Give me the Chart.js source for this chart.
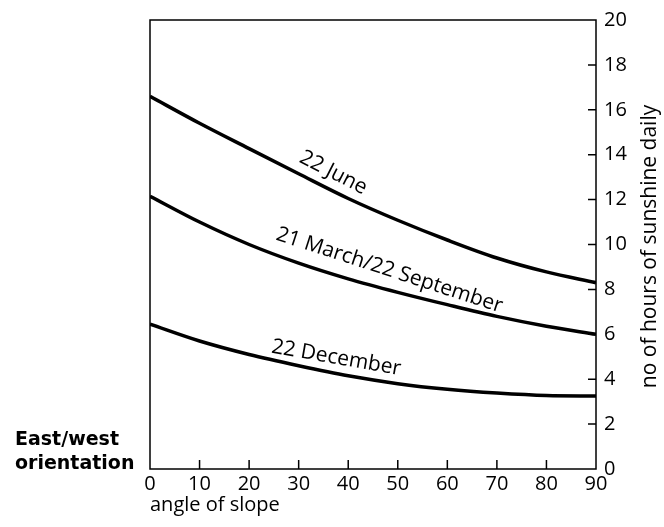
<!DOCTYPE html>
<html>
<head>
<meta charset="utf-8">
<script src="https://cdn.jsdelivr.net/npm/chart.js@4/dist/chart.umd.min.js"></script>
<style>
  html, body { margin: 0; padding: 0; background: #fff; }
</style>
</head>
<body>
<canvas id="slopeChart" width="664" height="527"></canvas>
<script>
// values
var angles = [0, 10, 20, 30, 40, 50, 60, 70, 80, 90];
var juneHours = [16.6, 15.4, 14.27, 13.15, 12.05, 11.08, 10.2, 9.4, 8.78, 8.3];
var equinoxHours = [12.15, 11.0, 10.0, 9.17, 8.47, 7.87, 7.32, 6.8, 6.36, 6.0];
var decemberHours = [6.45, 5.7, 5.1, 4.6, 4.15, 3.8, 3.55, 3.38, 3.27, 3.25];
var seriesNames = ['22 June', '21 March/22 September', '22 December'];

// where each curve name sits (in axis units) and its tilt in degrees
var nameSpots = [
    { x: 37, y: 13.2, tilt: 27 },
    { x: 48.3, y: 8.85, tilt: 18 },
    { x: 37.6, y: 4.95, tilt: 10 }
];

function toPoints(ys) {
    return angles.map(function(a, i) { return { x: a, y: ys[i] }; });
}

var decorPlugin = {
    id: 'decor',
    afterDraw: function(chart) {
        var ctx = chart.ctx;
        var area = chart.chartArea;
        var xs = chart.scales.x;
        var ys = chart.scales.y;
        ctx.save();

        // frame round the plot
        ctx.strokeStyle = '#000';
        ctx.lineWidth = 1.5;
        ctx.strokeRect(area.left, area.top, area.right - area.left, area.bottom - area.top);

        // short tick marks pointing inward
        ctx.beginPath();
        xs.ticks.forEach(function(t) {
            if (t.value > xs.min && t.value < xs.max) {
                var px = xs.getPixelForValue(t.value);
                ctx.moveTo(px, area.bottom);
                ctx.lineTo(px, area.bottom - 9);
            }
        });
        ys.ticks.forEach(function(t) {
            if (t.value > ys.min && t.value < ys.max) {
                var py = ys.getPixelForValue(t.value);
                ctx.moveTo(area.right, py);
                ctx.lineTo(area.right - 8, py);
            }
        });
        ctx.stroke();

        // curve names
        ctx.fillStyle = '#000';
        ctx.font = '21px "Open Sans"';
        ctx.textAlign = 'center';
        ctx.textBaseline = 'middle';
        nameSpots.forEach(function(s, i) {
            ctx.save();
            ctx.translate(xs.getPixelForValue(s.x), ys.getPixelForValue(s.y));
            ctx.rotate(s.tilt * Math.PI / 180);
            ctx.fillText(seriesNames[i], 0, 0);
            ctx.restore();
        });

        // right axis title, reading upward
        ctx.save();
        ctx.translate(area.right + 54, (area.top + area.bottom) / 2 + 2);
        ctx.rotate(-Math.PI / 2);
        ctx.font = '21px "Open Sans"';
        ctx.fillText('no of hours of sunshine daily', 0, 0);
        ctx.restore();

        // side caption
        ctx.textAlign = 'left';
        ctx.textBaseline = 'alphabetic';
        ctx.font = 'bold 19px "DejaVu Sans"';
        ctx.fillText('East/west', 15, 445);
        ctx.fillText('orientation', 15, 469);

        ctx.restore();
    }
};

var ctxSlope = document.getElementById('slopeChart').getContext('2d');
var slopeChart = new Chart(ctxSlope, {
    type: 'line',
    data: {
        datasets: [
            { label: seriesNames[0], data: toPoints(juneHours) },
            { label: seriesNames[1], data: toPoints(equinoxHours) },
            { label: seriesNames[2], data: toPoints(decemberHours) }
        ]
    },
    options: {
        responsive: false,
        animation: false,
        devicePixelRatio: 1,
        layout: { padding: { left: 150, top: 19, right: 0, bottom: 0 } },
        elements: {
            line: { borderColor: '#000', borderWidth: 3.5, fill: false, cubicInterpolationMode: 'monotone' },
            point: { radius: 0 }
        },
        plugins: {
            legend: { display: false },
            tooltip: { enabled: false }
        },
        scales: {
            x: {
                type: 'linear',
                min: 0,
                max: 90,
                grid: { display: false, drawTicks: false },
                border: { display: false },
                ticks: { stepSize: 10, padding: 3, color: '#000', font: { family: 'Open Sans', size: 20 }, maxRotation: 0, autoSkip: false },
                title: {
                    display: true,
                    text: 'angle of slope',
                    align: 'start',
                    color: '#000',
                    font: { family: 'Open Sans', size: 20 },
                    padding: { top: 0, bottom: 10 }
                },
                afterFit: function(scale) { scale.height = 58; }
            },
            y: {
                position: 'right',
                min: 0,
                max: 20,
                grid: { display: false, drawTicks: false },
                border: { display: false },
                ticks: { stepSize: 2, padding: 8, color: '#000', font: { family: 'Open Sans', size: 20 } },
                afterFit: function(scale) { scale.width = 68; }
            }
        }
    },
    plugins: [decorPlugin]
});
</script>
</body>
</html>
